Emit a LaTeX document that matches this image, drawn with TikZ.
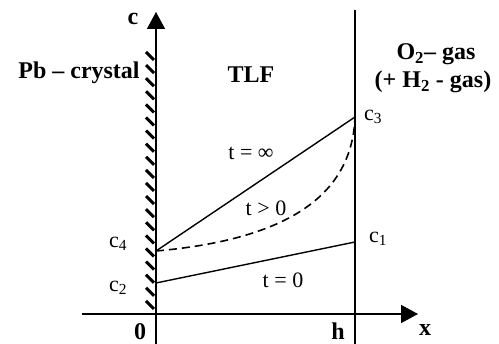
\documentclass[tikz,border=0pt]{standalone}
\usepackage{fontspec}
\setmainfont{Liberation Serif}
\usetikzlibrary{arrows.meta}
\begin{document}
\begin{tikzpicture}[x=1pt,y=-1pt,
  bl/.style={font=\fontsize{24}{27}\selectfont\bfseries, inner sep=0pt},
  rl/.style={font=\fontsize{22}{25}\selectfont, inner sep=0pt},
  axis/.style={line width=1.5pt},
  curve/.style={line width=1.4pt},
  hatch/.style={line width=3pt},
  bigtip/.style={-{Triangle[length=17pt,width=18pt]}}]
\useasboundingbox (0,0) rectangle (499,344);
% key points
\coordinate (xs) at (82,314);
\coordinate (xe) at (418,314);
\coordinate (ys) at (156,344);
\coordinate (ye) at (156,12);
\coordinate (hs) at (355,344);
\coordinate (he) at (355,10);
\coordinate (C4) at (156,251);
\coordinate (C2) at (156,283);
\coordinate (C3) at (355,117);
\coordinate (C1) at (355,242);
% hatching
\foreach \i in {0,...,19}{
  \draw[hatch] (146,52+\i*13.1) -- (154,60+\i*13.1);
}
% axes
\draw[axis,bigtip] (xs) -- (xe);
\draw[axis,bigtip] (ys) -- (ye);
\draw[axis] (hs) -- (he);
% profiles
\draw[curve] (C4) -- (C3);
\draw[curve] (C2) -- (C1);
\draw[curve,line width=1.6pt,dash pattern=on 8pt off 5pt] (C4) .. controls (280,240) and (352,200) .. (C3);
% labels
\node[bl] (lc) at (133,19) {c};
\node[bl] (lpb) at (79,73) {Pb – crystal};
\node[bl] (ltlf) at (251,75) {TLF};
\node[bl] (lo2) at (436,54) {O\textsubscript{2}– gas};
\node[bl] (lh2) at (433,82) {(+ H\textsubscript{2} - gas)};
\node[rl] (lc3) at (373,117) {c\textsubscript{3}};
\node[rl] (lc1) at (378,239) {c\textsubscript{1}};
\node[rl] (lc4) at (118,244) {c\textsubscript{4}};
\node[rl] (lc2) at (118,288) {c\textsubscript{2}};
\node[rl] (linf) at (251,153) {t = ∞};
\node[rl] (lgt) at (266,208) {t > 0};
\node[rl] (lz) at (283,280) {t = 0};
\node[bl] (l0) at (140,332) {0};
\node[bl] (lh) at (338,331) {h};
\node[bl] (lx) at (425,330) {x};
\end{tikzpicture}
\end{document}
